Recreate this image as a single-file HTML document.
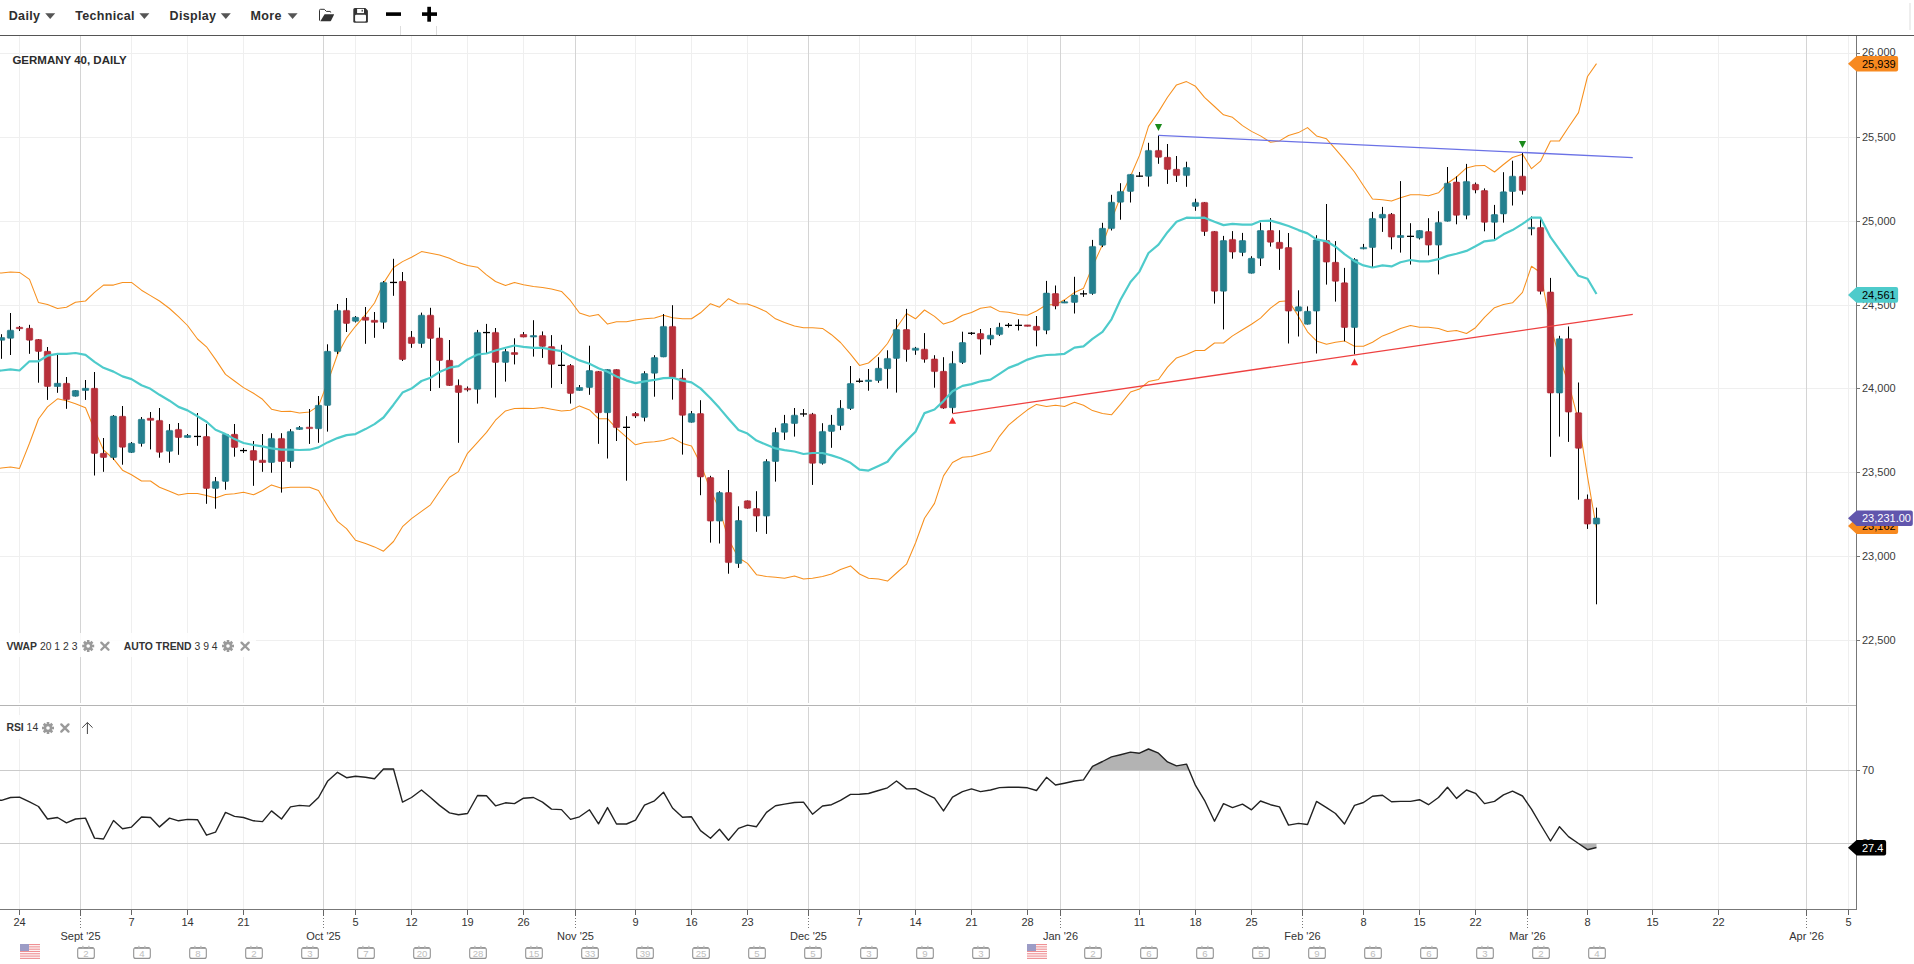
<!DOCTYPE html>
<html><head><meta charset="utf-8"><title>GERMANY 40, DAILY</title>
<style>
html,body{margin:0;padding:0;background:#fff;width:1914px;height:964px;overflow:hidden}
body{position:relative;font-family:"Liberation Sans",Arial,sans-serif}
svg{position:absolute;left:0;top:0}
.ax{font-family:"Liberation Sans",Arial,sans-serif;font-size:11px;fill:#3a3a3a}
.xa{font-family:"Liberation Sans",Arial,sans-serif;font-size:11px;fill:#333}
.tbt{font-family:"Liberation Sans",Arial,sans-serif;font-size:12.5px;font-weight:bold;fill:#2e2e2e;letter-spacing:0.3px}
.title{font-family:"Liberation Sans",Arial,sans-serif;font-size:11.5px;font-weight:bold;fill:#2b2b2b}
.ind{font-family:"Liberation Sans",Arial,sans-serif;font-size:10.4px;fill:#333}
.cal{font-family:"Liberation Sans",Arial,sans-serif;font-size:9.6px;fill:#bdbdbd}
</style></head><body>
<svg width="1914" height="964" viewBox="0 0 1914 964">
<g><rect x="0" y="53" width="1856" height="1" fill="#efefef"/><rect x="0" y="137" width="1856" height="1" fill="#efefef"/><rect x="0" y="221" width="1856" height="1" fill="#efefef"/><rect x="0" y="305" width="1856" height="1" fill="#efefef"/><rect x="0" y="388" width="1856" height="1" fill="#efefef"/><rect x="0" y="472" width="1856" height="1" fill="#efefef"/><rect x="0" y="556" width="1856" height="1" fill="#efefef"/><rect x="0" y="640" width="1856" height="1" fill="#efefef"/><rect x="19" y="36" width="1" height="667" fill="#efefef"/><rect x="19" y="707" width="1" height="202" fill="#efefef"/><rect x="131" y="36" width="1" height="667" fill="#efefef"/><rect x="131" y="707" width="1" height="202" fill="#efefef"/><rect x="187" y="36" width="1" height="667" fill="#efefef"/><rect x="187" y="707" width="1" height="202" fill="#efefef"/><rect x="243" y="36" width="1" height="667" fill="#efefef"/><rect x="243" y="707" width="1" height="202" fill="#efefef"/><rect x="355" y="36" width="1" height="667" fill="#efefef"/><rect x="355" y="707" width="1" height="202" fill="#efefef"/><rect x="411" y="36" width="1" height="667" fill="#efefef"/><rect x="411" y="707" width="1" height="202" fill="#efefef"/><rect x="467" y="36" width="1" height="667" fill="#efefef"/><rect x="467" y="707" width="1" height="202" fill="#efefef"/><rect x="523" y="36" width="1" height="667" fill="#efefef"/><rect x="523" y="707" width="1" height="202" fill="#efefef"/><rect x="635" y="36" width="1" height="667" fill="#efefef"/><rect x="635" y="707" width="1" height="202" fill="#efefef"/><rect x="691" y="36" width="1" height="667" fill="#efefef"/><rect x="691" y="707" width="1" height="202" fill="#efefef"/><rect x="747" y="36" width="1" height="667" fill="#efefef"/><rect x="747" y="707" width="1" height="202" fill="#efefef"/><rect x="859" y="36" width="1" height="667" fill="#efefef"/><rect x="859" y="707" width="1" height="202" fill="#efefef"/><rect x="915" y="36" width="1" height="667" fill="#efefef"/><rect x="915" y="707" width="1" height="202" fill="#efefef"/><rect x="971" y="36" width="1" height="667" fill="#efefef"/><rect x="971" y="707" width="1" height="202" fill="#efefef"/><rect x="1027" y="36" width="1" height="667" fill="#efefef"/><rect x="1027" y="707" width="1" height="202" fill="#efefef"/><rect x="1139" y="36" width="1" height="667" fill="#efefef"/><rect x="1139" y="707" width="1" height="202" fill="#efefef"/><rect x="1195" y="36" width="1" height="667" fill="#efefef"/><rect x="1195" y="707" width="1" height="202" fill="#efefef"/><rect x="1251" y="36" width="1" height="667" fill="#efefef"/><rect x="1251" y="707" width="1" height="202" fill="#efefef"/><rect x="1363" y="36" width="1" height="667" fill="#efefef"/><rect x="1363" y="707" width="1" height="202" fill="#efefef"/><rect x="1419" y="36" width="1" height="667" fill="#efefef"/><rect x="1419" y="707" width="1" height="202" fill="#efefef"/><rect x="1475" y="36" width="1" height="667" fill="#efefef"/><rect x="1475" y="707" width="1" height="202" fill="#efefef"/><rect x="1587" y="36" width="1" height="667" fill="#efefef"/><rect x="1587" y="707" width="1" height="202" fill="#efefef"/><rect x="1652" y="36" width="1" height="667" fill="#efefef"/><rect x="1652" y="707" width="1" height="202" fill="#efefef"/><rect x="1718" y="36" width="1" height="667" fill="#efefef"/><rect x="1718" y="707" width="1" height="202" fill="#efefef"/><rect x="1848" y="36" width="1" height="667" fill="#efefef"/><rect x="1848" y="707" width="1" height="202" fill="#efefef"/><rect x="80" y="36" width="1" height="667" fill="#d4d4d4"/><rect x="80" y="707" width="1" height="202" fill="#d4d4d4"/><rect x="323" y="36" width="1" height="667" fill="#d4d4d4"/><rect x="323" y="707" width="1" height="202" fill="#d4d4d4"/><rect x="575" y="36" width="1" height="667" fill="#d4d4d4"/><rect x="575" y="707" width="1" height="202" fill="#d4d4d4"/><rect x="808" y="36" width="1" height="667" fill="#d4d4d4"/><rect x="808" y="707" width="1" height="202" fill="#d4d4d4"/><rect x="1060" y="36" width="1" height="667" fill="#d4d4d4"/><rect x="1060" y="707" width="1" height="202" fill="#d4d4d4"/><rect x="1302" y="36" width="1" height="667" fill="#d4d4d4"/><rect x="1302" y="707" width="1" height="202" fill="#d4d4d4"/><rect x="1527" y="36" width="1" height="667" fill="#d4d4d4"/><rect x="1527" y="707" width="1" height="202" fill="#d4d4d4"/><rect x="1806" y="36" width="1" height="667" fill="#d4d4d4"/><rect x="1806" y="707" width="1" height="202" fill="#d4d4d4"/><rect x="0" y="770" width="1856" height="1" fill="#cbcbcb"/><rect x="0" y="843" width="1856" height="1" fill="#cbcbcb"/></g>
<polyline points="-7.8,273.7 1.5,272.9 10.5,272.1 19.5,272.4 29.5,279.4 38.5,302.6 47.5,304.5 57.5,308.5 66.5,307.2 75.5,302.3 85.5,301 94.5,292.3 103.5,285.1 113.5,285.1 122.5,282.6 131.5,282.4 141.5,290.2 150.5,295.6 159.5,301 169.5,308.5 178.5,316.6 187.5,325.5 197.5,339 206.5,346.8 215.5,359.4 225.5,374.4 234.5,381 243.5,387.6 253.5,393.3 262.5,399.3 271.5,409.2 281.5,411.5 290.5,411.2 299.5,412.9 309.5,411.9 318.5,405.9 327.5,382.7 337.5,354.5 346.5,337.9 355.5,326.3 365.5,314.7 374.5,303 383.5,283.1 393.5,267.5 402.5,261.6 411.5,257.3 421.5,251.6 430.5,253.3 439.5,254.9 449.5,258.2 458.5,262.6 467.5,265.5 477.5,267.2 486.5,274.8 495.5,281.5 505.5,285.5 514.5,282.5 523.5,284.8 533.5,286.4 542.5,287.4 551.5,289.1 561.5,291.4 570.5,300.7 579.5,313 589.5,316.3 598.5,314.6 607.5,324.1 616.5,321.7 626.5,321.7 635.5,319.9 644.5,318.8 654.5,318.1 663.5,315.3 672.5,317.8 682.5,318.8 691.5,318.8 700.5,312.8 710.5,303.7 719.5,307.2 728.5,298.7 738.5,303.7 747.5,304 756.5,307.2 766.5,311.8 775.5,318.8 784.5,322.4 794.5,325.9 803.5,327.7 812.5,327.7 822.5,328.4 831.5,334.7 840.5,342.5 850.5,354.1 859.5,365.4 868.5,363 878.5,354.1 887.5,343.5 896.5,327.7 906.5,313.5 915.5,318.8 924.5,310 934.5,316.4 943.5,324.1 952.5,321.3 962.5,315.3 971.5,312.5 980.5,308.2 990.5,306.7 999.5,311.4 1008.5,312.3 1018.5,314.4 1027.5,315.2 1036.5,311 1046.5,304.8 1055.5,304.8 1064.5,299.8 1074.5,292.4 1083.5,288.2 1092.5,266.6 1102.5,244.6 1111.5,219.8 1120.5,196.9 1130.5,176.2 1139.5,155.4 1148.5,126.4 1158.5,111.9 1167.5,97.3 1176.5,84.9 1186.5,81.6 1195.5,86.3 1204.5,97.3 1214.5,106.5 1223.5,114.8 1232.5,117.3 1242.5,125.6 1251.5,131.4 1260.5,135.9 1270.5,142.2 1279.5,140.9 1288.5,135.5 1298.5,132.6 1307.5,127.6 1316.5,135.9 1326.5,138.8 1335.5,149.2 1344.5,159.6 1354.5,172 1363.5,185.7 1372.5,199 1382.5,199.8 1391.5,201.1 1400.5,197.7 1410.5,194.8 1419.5,194.8 1428.5,195.7 1438.5,192.8 1447.5,183.2 1456.5,177 1466.5,167.9 1475.5,165.8 1484.5,165.4 1494.5,172 1503.5,164.5 1512.5,157.5 1522.5,154.2 1531.5,168.7 1540.5,161.2 1550.5,140.9 1559.5,140.9 1568.5,127.2 1578.5,112.6 1587.5,76.5 1596.5,63.6" fill="none" stroke="#f7901e" stroke-width="1.05" stroke-linejoin="round"/>
<polyline points="-7.8,469.2 1.5,468.1 10.5,467 19.5,468.4 29.5,443.3 38.5,419 47.5,406.9 57.5,398.8 66.5,400.7 75.5,403.7 85.5,407.7 94.5,429.8 103.5,450 113.5,458.9 122.5,470.2 131.5,474.8 141.5,481 150.5,481 159.5,487.2 169.5,491.3 178.5,495 187.5,493.4 197.5,493.5 206.5,495.5 215.5,498.1 225.5,494.5 234.5,493.8 243.5,492.2 253.5,494.8 262.5,490.5 271.5,484.9 281.5,488.2 290.5,487.2 299.5,487.2 309.5,487.2 318.5,490.5 327.5,505.4 337.5,521.4 346.5,528.6 355.5,540.3 365.5,543.6 374.5,546.9 383.5,551.2 393.5,541.5 402.5,526.7 411.5,518.7 421.5,511.4 430.5,504.8 439.5,491.5 449.5,477.2 458.5,471.6 467.5,453.3 477.5,442.4 486.5,432.4 495.5,420.2 505.5,410.9 514.5,408.5 523.5,408.2 533.5,408.5 542.5,407.5 551.5,409.2 561.5,410.9 570.5,410.2 579.5,405.9 589.5,409.9 598.5,418.7 607.5,418.7 616.5,428.3 626.5,437.1 635.5,444.8 644.5,442.4 654.5,441.7 663.5,440.6 672.5,437.8 682.5,443.4 691.5,445.9 700.5,463.6 710.5,490 719.5,509.4 728.5,539.4 738.5,557.8 747.5,563.4 756.5,574.7 766.5,576.5 775.5,577.2 784.5,578.3 794.5,576 803.5,579 812.5,578.3 822.5,576.5 831.5,574 840.5,569.5 850.5,565.9 859.5,574 868.5,578.3 878.5,579 887.5,581.1 896.5,573 906.5,564.2 915.5,543 924.5,518.3 934.5,503.4 943.5,475.9 952.5,462.5 962.5,457.2 971.5,456.5 980.5,454 990.5,451 999.5,436.3 1008.5,425.1 1018.5,416.8 1027.5,409.8 1036.5,404.4 1046.5,406.5 1055.5,405.2 1064.5,406.5 1074.5,402.3 1083.5,405.2 1092.5,410.6 1102.5,413.5 1111.5,414.8 1120.5,404.4 1130.5,392 1139.5,389 1148.5,381.6 1158.5,379.5 1167.5,367.1 1176.5,357.9 1186.5,354.6 1195.5,350.5 1204.5,350.5 1214.5,343 1223.5,343 1232.5,335.9 1242.5,329.7 1251.5,324.3 1260.5,318.1 1270.5,308.1 1279.5,301.5 1288.5,300.7 1298.5,316.4 1307.5,331.8 1316.5,340.9 1326.5,344.2 1335.5,342.2 1344.5,340.9 1354.5,346.3 1363.5,346.3 1372.5,342.2 1382.5,335.9 1391.5,332.5 1400.5,328.5 1410.5,325.6 1419.5,327.3 1428.5,327.3 1438.5,328.5 1447.5,331.4 1456.5,330.6 1466.5,333.5 1475.5,327.7 1484.5,317.3 1494.5,307.7 1503.5,304.4 1512.5,302.8 1522.5,292.4 1531.5,266.2 1540.5,272.5 1550.5,326 1559.5,357.8 1568.5,383.2 1578.5,420.6 1587.5,476.6 1596.5,528.5" fill="none" stroke="#f7901e" stroke-width="1.05" stroke-linejoin="round"/>
<g><rect x="1" y="334.2" width="1" height="24.6" fill="#000"/><rect x="-1.7" y="337.6" width="6.4" height="2.6" rx="0.3" fill="#24808f" stroke="#1c7483" stroke-width="0.6"/><rect x="10" y="313" width="1" height="42" fill="#000"/><rect x="7.3" y="330.2" width="6.4" height="8.1" rx="0.8" fill="#24808f" stroke="#1c7483" stroke-width="0.6"/><rect x="19" y="326" width="1" height="5" fill="#000"/><rect x="16.3" y="327.3" width="6.4" height="1.4" rx="0.3" fill="#b8303a" stroke="#ab2430" stroke-width="0.6"/><rect x="29" y="324.8" width="1" height="29" fill="#000"/><rect x="26.3" y="328.3" width="6.4" height="11.9" rx="0.8" fill="#b8303a" stroke="#ab2430" stroke-width="0.6"/><rect x="38" y="339" width="1" height="43.7" fill="#000"/><rect x="35.3" y="339.5" width="6.4" height="11.9" rx="0.8" fill="#b8303a" stroke="#ab2430" stroke-width="0.6"/><rect x="47" y="347" width="1" height="52.9" fill="#000"/><rect x="44.3" y="351.3" width="6.4" height="35.2" rx="0.8" fill="#b8303a" stroke="#ab2430" stroke-width="0.6"/><rect x="57" y="355" width="1" height="37.8" fill="#000"/><rect x="54.3" y="383.3" width="6.4" height="3.2" rx="0.3" fill="#24808f" stroke="#1c7483" stroke-width="0.6"/><rect x="66" y="377" width="1" height="31.8" fill="#000"/><rect x="63.3" y="383.3" width="6.4" height="16.3" rx="0.8" fill="#b8303a" stroke="#ab2430" stroke-width="0.6"/><rect x="75" y="390.2" width="1" height="6.3" fill="#000"/><rect x="72.3" y="390.5" width="6.4" height="5.7" rx="0.8" fill="#24808f" stroke="#1c7483" stroke-width="0.6"/><rect x="85" y="380" width="1" height="19.9" fill="#000"/><rect x="82.3" y="388.3" width="6.4" height="2.1" rx="0.3" fill="#24808f" stroke="#1c7483" stroke-width="0.6"/><rect x="94" y="372" width="1" height="103.5" fill="#000"/><rect x="91.3" y="388.3" width="6.4" height="65.1" rx="0.8" fill="#b8303a" stroke="#ab2430" stroke-width="0.6"/><rect x="103" y="438" width="1" height="33.8" fill="#000"/><rect x="100.3" y="453.3" width="6.4" height="4.2" rx="0.8" fill="#b8303a" stroke="#ab2430" stroke-width="0.6"/><rect x="113" y="415" width="1" height="45" fill="#000"/><rect x="110.3" y="416.1" width="6.4" height="41.4" rx="0.8" fill="#24808f" stroke="#1c7483" stroke-width="0.6"/><rect x="122" y="406" width="1" height="58.7" fill="#000"/><rect x="119.3" y="416.3" width="6.4" height="30.9" rx="0.8" fill="#b8303a" stroke="#ab2430" stroke-width="0.6"/><rect x="131" y="442" width="1" height="11" fill="#000"/><rect x="128.3" y="443.3" width="6.4" height="9.1" rx="0.8" fill="#24808f" stroke="#1c7483" stroke-width="0.6"/><rect x="141" y="417" width="1" height="29.6" fill="#000"/><rect x="138.3" y="419.3" width="6.4" height="24.2" rx="0.8" fill="#24808f" stroke="#1c7483" stroke-width="0.6"/><rect x="150" y="412" width="1" height="37.4" fill="#000"/><rect x="147.3" y="418.3" width="6.4" height="2" rx="0.3" fill="#b8303a" stroke="#ab2430" stroke-width="0.6"/><rect x="159" y="408" width="1" height="49.7" fill="#000"/><rect x="156.3" y="420.4" width="6.4" height="31.9" rx="0.8" fill="#b8303a" stroke="#ab2430" stroke-width="0.6"/><rect x="169" y="424" width="1" height="38.8" fill="#000"/><rect x="166.3" y="430.4" width="6.4" height="20.9" rx="0.8" fill="#24808f" stroke="#1c7483" stroke-width="0.6"/><rect x="178" y="423" width="1" height="31.8" fill="#000"/><rect x="175.3" y="429.4" width="6.4" height="8.1" rx="0.8" fill="#b8303a" stroke="#ab2430" stroke-width="0.6"/><rect x="187" y="434" width="1" height="4" fill="#000"/><rect x="184.3" y="435.5" width="6.4" height="1.9" rx="0.3" fill="#24808f" stroke="#1c7483" stroke-width="0.6"/><rect x="197" y="413" width="1" height="32.8" fill="#000"/><rect x="194" y="435.8" width="7" height="1.3" fill="#000"/><rect x="206" y="424" width="1" height="79.8" fill="#000"/><rect x="203.3" y="436.5" width="6.4" height="51.9" rx="0.8" fill="#b8303a" stroke="#ab2430" stroke-width="0.6"/><rect x="215" y="477" width="1" height="31.7" fill="#000"/><rect x="212.3" y="481.4" width="6.4" height="7" rx="0.8" fill="#24808f" stroke="#1c7483" stroke-width="0.6"/><rect x="225" y="433.3" width="1" height="56.4" fill="#000"/><rect x="222.3" y="434.3" width="6.4" height="47.1" rx="0.8" fill="#24808f" stroke="#1c7483" stroke-width="0.6"/><rect x="234" y="424" width="1" height="32.7" fill="#000"/><rect x="231.3" y="434.3" width="6.4" height="13.1" rx="0.8" fill="#b8303a" stroke="#ab2430" stroke-width="0.6"/><rect x="243" y="448" width="1" height="5" fill="#000"/><rect x="240" y="449.9" width="7" height="1.3" fill="#000"/><rect x="253" y="441" width="1" height="44.8" fill="#000"/><rect x="250.3" y="450.5" width="6.4" height="9.8" rx="0.8" fill="#b8303a" stroke="#ab2430" stroke-width="0.6"/><rect x="262" y="434" width="1" height="37.8" fill="#000"/><rect x="259.3" y="460.2" width="6.4" height="2.3" rx="0.3" fill="#b8303a" stroke="#ab2430" stroke-width="0.6"/><rect x="271" y="433.2" width="1" height="39.5" fill="#000"/><rect x="268.3" y="438.4" width="6.4" height="24.1" rx="0.8" fill="#24808f" stroke="#1c7483" stroke-width="0.6"/><rect x="281" y="433.2" width="1" height="59.4" fill="#000"/><rect x="278.3" y="438.4" width="6.4" height="23.1" rx="0.8" fill="#b8303a" stroke="#ab2430" stroke-width="0.6"/><rect x="290" y="429.1" width="1" height="38.8" fill="#000"/><rect x="287.3" y="431.4" width="6.4" height="30.1" rx="0.8" fill="#24808f" stroke="#1c7483" stroke-width="0.6"/><rect x="299" y="426" width="1" height="4" fill="#000"/><rect x="296.3" y="427.5" width="6.4" height="1.9" rx="0.3" fill="#24808f" stroke="#1c7483" stroke-width="0.6"/><rect x="309" y="409" width="1" height="34.9" fill="#000"/><rect x="306.3" y="427.2" width="6.4" height="1.4" rx="0.3" fill="#b8303a" stroke="#ab2430" stroke-width="0.6"/><rect x="318" y="396" width="1" height="46.8" fill="#000"/><rect x="315.3" y="405.3" width="6.4" height="23.4" rx="0.8" fill="#24808f" stroke="#1c7483" stroke-width="0.6"/><rect x="327" y="344.3" width="1" height="87.3" fill="#000"/><rect x="324.3" y="351.3" width="6.4" height="54.1" rx="0.8" fill="#24808f" stroke="#1c7483" stroke-width="0.6"/><rect x="337" y="304" width="1" height="50" fill="#000"/><rect x="334.3" y="310.4" width="6.4" height="41.2" rx="0.8" fill="#24808f" stroke="#1c7483" stroke-width="0.6"/><rect x="346" y="298" width="1" height="34" fill="#000"/><rect x="343.3" y="310.4" width="6.4" height="13" rx="0.8" fill="#b8303a" stroke="#ab2430" stroke-width="0.6"/><rect x="355" y="316" width="1" height="6.5" fill="#000"/><rect x="352.3" y="317.3" width="6.4" height="4" rx="0.8" fill="#24808f" stroke="#1c7483" stroke-width="0.6"/><rect x="365" y="307" width="1" height="36.8" fill="#000"/><rect x="362.3" y="317.3" width="6.4" height="2.9" rx="0.3" fill="#b8303a" stroke="#ab2430" stroke-width="0.6"/><rect x="374" y="312" width="1" height="25.8" fill="#000"/><rect x="371.3" y="320.3" width="6.4" height="2" rx="0.3" fill="#b8303a" stroke="#ab2430" stroke-width="0.6"/><rect x="383" y="281" width="1" height="47.8" fill="#000"/><rect x="380.3" y="282.4" width="6.4" height="39.9" rx="0.8" fill="#24808f" stroke="#1c7483" stroke-width="0.6"/><rect x="393" y="258.8" width="1" height="37" fill="#000"/><rect x="390" y="281.8" width="7" height="1.3" fill="#000"/><rect x="402" y="272" width="1" height="89" fill="#000"/><rect x="399.3" y="281.3" width="6.4" height="78.2" rx="0.8" fill="#b8303a" stroke="#ab2430" stroke-width="0.6"/><rect x="411" y="331" width="1" height="16.8" fill="#000"/><rect x="408.3" y="337.2" width="6.4" height="6.3" rx="0.8" fill="#b8303a" stroke="#ab2430" stroke-width="0.6"/><rect x="421" y="312.6" width="1" height="35.2" fill="#000"/><rect x="418.3" y="315.2" width="6.4" height="28.3" rx="0.8" fill="#24808f" stroke="#1c7483" stroke-width="0.6"/><rect x="430" y="307.8" width="1" height="83.2" fill="#000"/><rect x="427.3" y="315.2" width="6.4" height="23.2" rx="0.8" fill="#b8303a" stroke="#ab2430" stroke-width="0.6"/><rect x="439" y="327.6" width="1" height="60.3" fill="#000"/><rect x="436.3" y="338.1" width="6.4" height="22.3" rx="0.8" fill="#b8303a" stroke="#ab2430" stroke-width="0.6"/><rect x="449" y="340" width="1" height="45.8" fill="#000"/><rect x="446.3" y="360.3" width="6.4" height="25.2" rx="0.8" fill="#b8303a" stroke="#ab2430" stroke-width="0.6"/><rect x="458" y="379.4" width="1" height="63.4" fill="#000"/><rect x="455.3" y="385.4" width="6.4" height="7.1" rx="0.8" fill="#b8303a" stroke="#ab2430" stroke-width="0.6"/><rect x="467" y="386.5" width="1" height="5" fill="#000"/><rect x="464.3" y="388.4" width="6.4" height="1.4" rx="0.3" fill="#b8303a" stroke="#ab2430" stroke-width="0.6"/><rect x="477" y="329.9" width="1" height="73.7" fill="#000"/><rect x="474.3" y="332.4" width="6.4" height="56.9" rx="0.8" fill="#24808f" stroke="#1c7483" stroke-width="0.6"/><rect x="486" y="323.9" width="1" height="29.3" fill="#000"/><rect x="483" y="331.9" width="7" height="1.3" fill="#000"/><rect x="495" y="328" width="1" height="69.5" fill="#000"/><rect x="492.3" y="332.4" width="6.4" height="30" rx="0.8" fill="#b8303a" stroke="#ab2430" stroke-width="0.6"/><rect x="505" y="349" width="1" height="32.6" fill="#000"/><rect x="502.3" y="351.6" width="6.4" height="10.8" rx="0.8" fill="#24808f" stroke="#1c7483" stroke-width="0.6"/><rect x="514" y="338.3" width="1" height="26.1" fill="#000"/><rect x="511.3" y="352.6" width="6.4" height="1.8" rx="0.3" fill="#b8303a" stroke="#ab2430" stroke-width="0.6"/><rect x="523" y="332" width="1" height="5.3" fill="#000"/><rect x="520.3" y="334.5" width="6.4" height="2.5" rx="0.3" fill="#b8303a" stroke="#ab2430" stroke-width="0.6"/><rect x="533" y="320.2" width="1" height="36.4" fill="#000"/><rect x="530.3" y="335.6" width="6.4" height="1.4" rx="0.3" fill="#24808f" stroke="#1c7483" stroke-width="0.6"/><rect x="542" y="331.4" width="1" height="26.5" fill="#000"/><rect x="539.3" y="335.6" width="6.4" height="10.8" rx="0.8" fill="#b8303a" stroke="#ab2430" stroke-width="0.6"/><rect x="551" y="335.1" width="1" height="52.7" fill="#000"/><rect x="548.3" y="346.6" width="6.4" height="17.7" rx="0.8" fill="#b8303a" stroke="#ab2430" stroke-width="0.6"/><rect x="561" y="344.8" width="1" height="39.2" fill="#000"/><rect x="558" y="364.7" width="7" height="1.3" fill="#000"/><rect x="570" y="364" width="1" height="39.6" fill="#000"/><rect x="567.3" y="365.5" width="6.4" height="27.9" rx="0.8" fill="#b8303a" stroke="#ab2430" stroke-width="0.6"/><rect x="579" y="385" width="1" height="5.7" fill="#000"/><rect x="576.3" y="387.5" width="6.4" height="2.9" rx="0.3" fill="#24808f" stroke="#1c7483" stroke-width="0.6"/><rect x="589" y="345.7" width="1" height="49.1" fill="#000"/><rect x="586.3" y="370.5" width="6.4" height="17" rx="0.8" fill="#24808f" stroke="#1c7483" stroke-width="0.6"/><rect x="598" y="371" width="1" height="72.8" fill="#000"/><rect x="595.3" y="371.4" width="6.4" height="41.3" rx="0.8" fill="#b8303a" stroke="#ab2430" stroke-width="0.6"/><rect x="607" y="369.3" width="1" height="89.2" fill="#000"/><rect x="604.3" y="369.6" width="6.4" height="43.1" rx="0.8" fill="#24808f" stroke="#1c7483" stroke-width="0.6"/><rect x="616" y="369.3" width="1" height="71.7" fill="#000"/><rect x="613.3" y="369.6" width="6.4" height="58" rx="0.8" fill="#b8303a" stroke="#ab2430" stroke-width="0.6"/><rect x="626" y="416.2" width="1" height="64.5" fill="#000"/><rect x="623" y="426.7" width="7" height="1.3" fill="#000"/><rect x="635" y="412" width="1" height="6" fill="#000"/><rect x="632.3" y="413.6" width="6.4" height="2.3" rx="0.3" fill="#b8303a" stroke="#ab2430" stroke-width="0.6"/><rect x="644" y="371.2" width="1" height="50.2" fill="#000"/><rect x="641.3" y="373.5" width="6.4" height="43.9" rx="0.8" fill="#24808f" stroke="#1c7483" stroke-width="0.6"/><rect x="654" y="355.2" width="1" height="41.5" fill="#000"/><rect x="651.3" y="357.5" width="6.4" height="15.7" rx="0.8" fill="#24808f" stroke="#1c7483" stroke-width="0.6"/><rect x="663" y="314" width="1" height="43.2" fill="#000"/><rect x="660.3" y="326.4" width="6.4" height="30.5" rx="0.8" fill="#24808f" stroke="#1c7483" stroke-width="0.6"/><rect x="672" y="305.2" width="1" height="94.4" fill="#000"/><rect x="669.3" y="326.4" width="6.4" height="51.2" rx="0.8" fill="#b8303a" stroke="#ab2430" stroke-width="0.6"/><rect x="682" y="369.1" width="1" height="85.5" fill="#000"/><rect x="679.3" y="378.2" width="6.4" height="37.1" rx="0.8" fill="#b8303a" stroke="#ab2430" stroke-width="0.6"/><rect x="691" y="411" width="1" height="11.6" fill="#000"/><rect x="688.3" y="413.6" width="6.4" height="8.7" rx="0.8" fill="#24808f" stroke="#1c7483" stroke-width="0.6"/><rect x="700" y="400.2" width="1" height="95" fill="#000"/><rect x="697.3" y="413.6" width="6.4" height="63.3" rx="0.8" fill="#b8303a" stroke="#ab2430" stroke-width="0.6"/><rect x="710" y="475.8" width="1" height="66.8" fill="#000"/><rect x="707.3" y="477.5" width="6.4" height="43.6" rx="0.8" fill="#b8303a" stroke="#ab2430" stroke-width="0.6"/><rect x="719" y="491.2" width="1" height="52.3" fill="#000"/><rect x="716.3" y="492.6" width="6.4" height="28.5" rx="0.8" fill="#24808f" stroke="#1c7483" stroke-width="0.6"/><rect x="728" y="470" width="1" height="103.7" fill="#000"/><rect x="725.3" y="492.6" width="6.4" height="70" rx="0.8" fill="#b8303a" stroke="#ab2430" stroke-width="0.6"/><rect x="738" y="506.3" width="1" height="61.6" fill="#000"/><rect x="735.3" y="520.5" width="6.4" height="43" rx="0.8" fill="#24808f" stroke="#1c7483" stroke-width="0.6"/><rect x="747" y="500.5" width="1" height="8.1" fill="#000"/><rect x="744.3" y="500.8" width="6.4" height="7.5" rx="0.8" fill="#b8303a" stroke="#ab2430" stroke-width="0.6"/><rect x="756" y="491.2" width="1" height="40.6" fill="#000"/><rect x="753.3" y="508.6" width="6.4" height="7.5" rx="0.8" fill="#b8303a" stroke="#ab2430" stroke-width="0.6"/><rect x="766" y="459.2" width="1" height="74.7" fill="#000"/><rect x="763.3" y="461.5" width="6.4" height="54.6" rx="0.8" fill="#24808f" stroke="#1c7483" stroke-width="0.6"/><rect x="775" y="427.8" width="1" height="53.8" fill="#000"/><rect x="772.3" y="432.5" width="6.4" height="29" rx="0.8" fill="#24808f" stroke="#1c7483" stroke-width="0.6"/><rect x="784" y="414.9" width="1" height="25" fill="#000"/><rect x="781.3" y="423.5" width="6.4" height="8.8" rx="0.8" fill="#24808f" stroke="#1c7483" stroke-width="0.6"/><rect x="794" y="408" width="1" height="28.6" fill="#000"/><rect x="791.3" y="415.2" width="6.4" height="8.3" rx="0.8" fill="#24808f" stroke="#1c7483" stroke-width="0.6"/><rect x="803" y="409" width="1" height="7.7" fill="#000"/><rect x="800" y="413.3" width="7" height="1.3" fill="#000"/><rect x="812" y="412.9" width="1" height="72" fill="#000"/><rect x="809.3" y="414.2" width="6.4" height="49.1" rx="0.8" fill="#b8303a" stroke="#ab2430" stroke-width="0.6"/><rect x="822" y="423.2" width="1" height="41.4" fill="#000"/><rect x="819.3" y="431.4" width="6.4" height="31.9" rx="0.8" fill="#24808f" stroke="#1c7483" stroke-width="0.6"/><rect x="831" y="414.9" width="1" height="32.9" fill="#000"/><rect x="828.3" y="425.1" width="6.4" height="6.3" rx="0.8" fill="#24808f" stroke="#1c7483" stroke-width="0.6"/><rect x="840" y="400.1" width="1" height="30" fill="#000"/><rect x="837.3" y="408.3" width="6.4" height="17.1" rx="0.8" fill="#24808f" stroke="#1c7483" stroke-width="0.6"/><rect x="850" y="366" width="1" height="44" fill="#000"/><rect x="847.3" y="383.5" width="6.4" height="25" rx="0.8" fill="#24808f" stroke="#1c7483" stroke-width="0.6"/><rect x="859" y="378.4" width="1" height="4.4" fill="#000"/><rect x="856" y="380.6" width="7" height="1.3" fill="#000"/><rect x="868" y="369" width="1" height="21.7" fill="#000"/><rect x="865.3" y="380.1" width="6.4" height="1.4" rx="0.3" fill="#24808f" stroke="#1c7483" stroke-width="0.6"/><rect x="878" y="357.2" width="1" height="25.6" fill="#000"/><rect x="875.3" y="368.3" width="6.4" height="12.2" rx="0.8" fill="#24808f" stroke="#1c7483" stroke-width="0.6"/><rect x="887" y="350.3" width="1" height="38.4" fill="#000"/><rect x="884.3" y="358.4" width="6.4" height="10.3" rx="0.8" fill="#24808f" stroke="#1c7483" stroke-width="0.6"/><rect x="896" y="319.1" width="1" height="73.5" fill="#000"/><rect x="893.3" y="329.5" width="6.4" height="28.9" rx="0.8" fill="#24808f" stroke="#1c7483" stroke-width="0.6"/><rect x="906" y="308.9" width="1" height="52.8" fill="#000"/><rect x="903.3" y="329.5" width="6.4" height="19.9" rx="0.8" fill="#b8303a" stroke="#ab2430" stroke-width="0.6"/><rect x="915" y="346.9" width="1" height="7.9" fill="#000"/><rect x="912.3" y="348.2" width="6.4" height="2" rx="0.3" fill="#24808f" stroke="#1c7483" stroke-width="0.6"/><rect x="924" y="333.1" width="1" height="29.6" fill="#000"/><rect x="921.3" y="349.2" width="6.4" height="10" rx="0.8" fill="#b8303a" stroke="#ab2430" stroke-width="0.6"/><rect x="934" y="355.2" width="1" height="32.5" fill="#000"/><rect x="931.3" y="359" width="6.4" height="12.6" rx="0.8" fill="#b8303a" stroke="#ab2430" stroke-width="0.6"/><rect x="943" y="357.2" width="1" height="51.6" fill="#000"/><rect x="940.3" y="371.3" width="6.4" height="36.8" rx="0.8" fill="#b8303a" stroke="#ab2430" stroke-width="0.6"/><rect x="952" y="351.2" width="1" height="62.1" fill="#000"/><rect x="949.3" y="363.4" width="6.4" height="44.3" rx="0.8" fill="#24808f" stroke="#1c7483" stroke-width="0.6"/><rect x="962" y="331.7" width="1" height="32.3" fill="#000"/><rect x="959.3" y="342.5" width="6.4" height="19.9" rx="0.8" fill="#24808f" stroke="#1c7483" stroke-width="0.6"/><rect x="971" y="332" width="1" height="3" fill="#000"/><rect x="968" y="332.6" width="7" height="1.3" fill="#000"/><rect x="980" y="329" width="1" height="25.6" fill="#000"/><rect x="977.3" y="333.5" width="6.4" height="5.6" rx="0.8" fill="#b8303a" stroke="#ab2430" stroke-width="0.6"/><rect x="990" y="328" width="1" height="17.2" fill="#000"/><rect x="987.3" y="335.2" width="6.4" height="3.9" rx="0.8" fill="#24808f" stroke="#1c7483" stroke-width="0.6"/><rect x="999" y="322.8" width="1" height="13.1" fill="#000"/><rect x="996.3" y="327.3" width="6.4" height="7.3" rx="0.8" fill="#24808f" stroke="#1c7483" stroke-width="0.6"/><rect x="1008" y="323" width="1" height="4.5" fill="#000"/><rect x="1005" y="324.7" width="7" height="1.3" fill="#000"/><rect x="1018" y="319.3" width="1" height="11.2" fill="#000"/><rect x="1015" y="324.7" width="7" height="1.3" fill="#000"/><rect x="1027" y="324.9" width="1" height="1.5" fill="#000"/><rect x="1024.3" y="324.9" width="6.4" height="1.4" rx="0.3" fill="#b8303a" stroke="#ab2430" stroke-width="0.6"/><rect x="1036" y="316" width="1" height="30.3" fill="#000"/><rect x="1033.3" y="326.3" width="6.4" height="3.9" rx="0.8" fill="#b8303a" stroke="#ab2430" stroke-width="0.6"/><rect x="1046" y="280.9" width="1" height="53.3" fill="#000"/><rect x="1043.3" y="293.1" width="6.4" height="37.1" rx="0.8" fill="#24808f" stroke="#1c7483" stroke-width="0.6"/><rect x="1055" y="285.5" width="1" height="23.8" fill="#000"/><rect x="1052.3" y="293.5" width="6.4" height="12.4" rx="0.8" fill="#b8303a" stroke="#ab2430" stroke-width="0.6"/><rect x="1064" y="300" width="1" height="3.1" fill="#000"/><rect x="1061.3" y="301.7" width="6.4" height="1.4" rx="0.3" fill="#24808f" stroke="#1c7483" stroke-width="0.6"/><rect x="1074" y="276.8" width="1" height="36.7" fill="#000"/><rect x="1071.3" y="295.1" width="6.4" height="7.3" rx="0.8" fill="#24808f" stroke="#1c7483" stroke-width="0.6"/><rect x="1083" y="290.3" width="1" height="6.6" fill="#000"/><rect x="1080" y="293.2" width="7" height="1.3" fill="#000"/><rect x="1092" y="239.9" width="1" height="54.9" fill="#000"/><rect x="1089.3" y="246.4" width="6.4" height="47.1" rx="0.8" fill="#24808f" stroke="#1c7483" stroke-width="0.6"/><rect x="1102" y="222.8" width="1" height="24.3" fill="#000"/><rect x="1099.3" y="228.3" width="6.4" height="16.9" rx="0.8" fill="#24808f" stroke="#1c7483" stroke-width="0.6"/><rect x="1111" y="194.8" width="1" height="35.7" fill="#000"/><rect x="1108.3" y="202.2" width="6.4" height="26.4" rx="0.8" fill="#24808f" stroke="#1c7483" stroke-width="0.6"/><rect x="1120" y="183.2" width="1" height="36.5" fill="#000"/><rect x="1117.3" y="191.4" width="6.4" height="10.8" rx="0.8" fill="#24808f" stroke="#1c7483" stroke-width="0.6"/><rect x="1130" y="174.1" width="1" height="28.4" fill="#000"/><rect x="1127.3" y="174.4" width="6.4" height="17" rx="0.8" fill="#24808f" stroke="#1c7483" stroke-width="0.6"/><rect x="1139" y="172" width="1" height="5" fill="#000"/><rect x="1136" y="175.5" width="7" height="1.3" fill="#000"/><rect x="1148" y="142.8" width="1" height="43.8" fill="#000"/><rect x="1145.3" y="150.4" width="6.4" height="25.9" rx="0.8" fill="#24808f" stroke="#1c7483" stroke-width="0.6"/><rect x="1158" y="135.5" width="1" height="28.3" fill="#000"/><rect x="1155.3" y="150.4" width="6.4" height="6.9" rx="0.8" fill="#b8303a" stroke="#ab2430" stroke-width="0.6"/><rect x="1167" y="144" width="1" height="39.9" fill="#000"/><rect x="1164.3" y="157.3" width="6.4" height="12.1" rx="0.8" fill="#b8303a" stroke="#ab2430" stroke-width="0.6"/><rect x="1176" y="156" width="1" height="26" fill="#000"/><rect x="1173.3" y="169.3" width="6.4" height="6.3" rx="0.8" fill="#b8303a" stroke="#ab2430" stroke-width="0.6"/><rect x="1186" y="161.7" width="1" height="25.1" fill="#000"/><rect x="1183.3" y="167.5" width="6.4" height="8.1" rx="0.8" fill="#24808f" stroke="#1c7483" stroke-width="0.6"/><rect x="1195" y="198.7" width="1" height="12.1" fill="#000"/><rect x="1192.3" y="202.4" width="6.4" height="4" rx="0.8" fill="#24808f" stroke="#1c7483" stroke-width="0.6"/><rect x="1204" y="202.1" width="1" height="33.8" fill="#000"/><rect x="1201.3" y="202.4" width="6.4" height="29.1" rx="0.8" fill="#b8303a" stroke="#ab2430" stroke-width="0.6"/><rect x="1214" y="231.1" width="1" height="72.5" fill="#000"/><rect x="1211.3" y="231.4" width="6.4" height="59.8" rx="0.8" fill="#b8303a" stroke="#ab2430" stroke-width="0.6"/><rect x="1223" y="235.9" width="1" height="93.5" fill="#000"/><rect x="1220.3" y="240.5" width="6.4" height="50.7" rx="0.8" fill="#24808f" stroke="#1c7483" stroke-width="0.6"/><rect x="1232" y="231.1" width="1" height="27.6" fill="#000"/><rect x="1229.3" y="239.4" width="6.4" height="12.6" rx="0.8" fill="#b8303a" stroke="#ab2430" stroke-width="0.6"/><rect x="1242" y="232.9" width="1" height="23.3" fill="#000"/><rect x="1239.3" y="240.5" width="6.4" height="12" rx="0.8" fill="#24808f" stroke="#1c7483" stroke-width="0.6"/><rect x="1251" y="256.2" width="1" height="17.3" fill="#000"/><rect x="1248.3" y="258.3" width="6.4" height="14.9" rx="0.8" fill="#24808f" stroke="#1c7483" stroke-width="0.6"/><rect x="1260" y="222.6" width="1" height="43.4" fill="#000"/><rect x="1257.3" y="230.5" width="6.4" height="27.7" rx="0.8" fill="#24808f" stroke="#1c7483" stroke-width="0.6"/><rect x="1270" y="218.1" width="1" height="28.5" fill="#000"/><rect x="1267.3" y="230.5" width="6.4" height="11.7" rx="0.8" fill="#b8303a" stroke="#ab2430" stroke-width="0.6"/><rect x="1279" y="230.2" width="1" height="39.7" fill="#000"/><rect x="1276.3" y="242.3" width="6.4" height="6.3" rx="0.8" fill="#b8303a" stroke="#ab2430" stroke-width="0.6"/><rect x="1288" y="233" width="1" height="110.5" fill="#000"/><rect x="1285.3" y="247.5" width="6.4" height="63.6" rx="0.8" fill="#b8303a" stroke="#ab2430" stroke-width="0.6"/><rect x="1298" y="290.3" width="1" height="46.2" fill="#000"/><rect x="1295.3" y="306.7" width="6.4" height="4.4" rx="0.8" fill="#24808f" stroke="#1c7483" stroke-width="0.6"/><rect x="1307" y="306.4" width="1" height="18.1" fill="#000"/><rect x="1304.3" y="311.3" width="6.4" height="12.9" rx="0.8" fill="#24808f" stroke="#1c7483" stroke-width="0.6"/><rect x="1316" y="235.2" width="1" height="118.3" fill="#000"/><rect x="1313.3" y="239.8" width="6.4" height="71.3" rx="0.8" fill="#24808f" stroke="#1c7483" stroke-width="0.6"/><rect x="1326" y="204" width="1" height="80.6" fill="#000"/><rect x="1323.3" y="240.5" width="6.4" height="21.6" rx="0.8" fill="#b8303a" stroke="#ab2430" stroke-width="0.6"/><rect x="1335" y="241.1" width="1" height="60.5" fill="#000"/><rect x="1332.3" y="262.3" width="6.4" height="19" rx="0.8" fill="#b8303a" stroke="#ab2430" stroke-width="0.6"/><rect x="1344" y="267.9" width="1" height="73.4" fill="#000"/><rect x="1341.3" y="282.8" width="6.4" height="44.7" rx="0.8" fill="#b8303a" stroke="#ab2430" stroke-width="0.6"/><rect x="1354" y="258.1" width="1" height="96.3" fill="#000"/><rect x="1351.3" y="259.5" width="6.4" height="68" rx="0.8" fill="#24808f" stroke="#1c7483" stroke-width="0.6"/><rect x="1363" y="243.9" width="1" height="5.4" fill="#000"/><rect x="1360.3" y="247.4" width="6.4" height="1.4" rx="0.3" fill="#24808f" stroke="#1c7483" stroke-width="0.6"/><rect x="1372" y="211.9" width="1" height="55.3" fill="#000"/><rect x="1369.3" y="218.5" width="6.4" height="29" rx="0.8" fill="#24808f" stroke="#1c7483" stroke-width="0.6"/><rect x="1382" y="206.9" width="1" height="25" fill="#000"/><rect x="1379.3" y="214.3" width="6.4" height="3.8" rx="0.8" fill="#24808f" stroke="#1c7483" stroke-width="0.6"/><rect x="1391" y="213" width="1" height="36.3" fill="#000"/><rect x="1388.3" y="214.3" width="6.4" height="22.8" rx="0.8" fill="#b8303a" stroke="#ab2430" stroke-width="0.6"/><rect x="1400" y="181.1" width="1" height="71.5" fill="#000"/><rect x="1397.3" y="235.5" width="6.4" height="2" rx="0.3" fill="#24808f" stroke="#1c7483" stroke-width="0.6"/><rect x="1410" y="223.2" width="1" height="41.4" fill="#000"/><rect x="1407" y="235.7" width="7" height="1.3" fill="#000"/><rect x="1419" y="230.2" width="1" height="9.3" fill="#000"/><rect x="1416.3" y="230.5" width="6.4" height="7.6" rx="0.8" fill="#24808f" stroke="#1c7483" stroke-width="0.6"/><rect x="1428" y="218.2" width="1" height="37.2" fill="#000"/><rect x="1425.3" y="231.6" width="6.4" height="13.5" rx="0.8" fill="#b8303a" stroke="#ab2430" stroke-width="0.6"/><rect x="1438" y="211.2" width="1" height="63.2" fill="#000"/><rect x="1435.3" y="222.4" width="6.4" height="22.7" rx="0.8" fill="#24808f" stroke="#1c7483" stroke-width="0.6"/><rect x="1447" y="167" width="1" height="54.5" fill="#000"/><rect x="1444.3" y="183.2" width="6.4" height="38" rx="0.8" fill="#24808f" stroke="#1c7483" stroke-width="0.6"/><rect x="1456" y="176.3" width="1" height="48" fill="#000"/><rect x="1453.3" y="182.1" width="6.4" height="33.2" rx="0.8" fill="#b8303a" stroke="#ab2430" stroke-width="0.6"/><rect x="1466" y="163.9" width="1" height="55.4" fill="#000"/><rect x="1463.3" y="181.4" width="6.4" height="33.9" rx="0.8" fill="#24808f" stroke="#1c7483" stroke-width="0.6"/><rect x="1475" y="182.5" width="1" height="10.8" fill="#000"/><rect x="1472.3" y="184.3" width="6.4" height="5.6" rx="0.8" fill="#b8303a" stroke="#ab2430" stroke-width="0.6"/><rect x="1484" y="188.4" width="1" height="42.9" fill="#000"/><rect x="1481.3" y="190.5" width="6.4" height="31.8" rx="0.8" fill="#b8303a" stroke="#ab2430" stroke-width="0.6"/><rect x="1494" y="204.9" width="1" height="34.1" fill="#000"/><rect x="1491.3" y="214.5" width="6.4" height="7.8" rx="0.8" fill="#24808f" stroke="#1c7483" stroke-width="0.6"/><rect x="1503" y="172.2" width="1" height="50.4" fill="#000"/><rect x="1500.3" y="191.8" width="6.4" height="22.1" rx="0.8" fill="#24808f" stroke="#1c7483" stroke-width="0.6"/><rect x="1512" y="160.7" width="1" height="44.8" fill="#000"/><rect x="1509.3" y="176.2" width="6.4" height="15.3" rx="0.8" fill="#24808f" stroke="#1c7483" stroke-width="0.6"/><rect x="1522" y="152" width="1" height="42.6" fill="#000"/><rect x="1519.3" y="176.2" width="6.4" height="14.4" rx="0.8" fill="#b8303a" stroke="#ab2430" stroke-width="0.6"/><rect x="1531" y="216.4" width="1" height="18.9" fill="#000"/><rect x="1528.3" y="227.4" width="6.4" height="1.4" rx="0.3" fill="#24808f" stroke="#1c7483" stroke-width="0.6"/><rect x="1540" y="218.8" width="1" height="75.6" fill="#000"/><rect x="1537.3" y="227.5" width="6.4" height="63.8" rx="0.8" fill="#b8303a" stroke="#ab2430" stroke-width="0.6"/><rect x="1550" y="277.9" width="1" height="178.9" fill="#000"/><rect x="1547.3" y="292" width="6.4" height="101" rx="0.8" fill="#b8303a" stroke="#ab2430" stroke-width="0.6"/><rect x="1559" y="335.8" width="1" height="100.8" fill="#000"/><rect x="1556.3" y="338.7" width="6.4" height="54.3" rx="0.8" fill="#24808f" stroke="#1c7483" stroke-width="0.6"/><rect x="1568" y="326.5" width="1" height="115.4" fill="#000"/><rect x="1565.3" y="338.7" width="6.4" height="73.4" rx="0.8" fill="#b8303a" stroke="#ab2430" stroke-width="0.6"/><rect x="1578" y="382.5" width="1" height="117.2" fill="#000"/><rect x="1575.3" y="412.7" width="6.4" height="35.6" rx="0.8" fill="#b8303a" stroke="#ab2430" stroke-width="0.6"/><rect x="1587" y="494.5" width="1" height="34.4" fill="#000"/><rect x="1584.3" y="499.3" width="6.4" height="24.8" rx="0.8" fill="#b8303a" stroke="#ab2430" stroke-width="0.6"/><rect x="1596" y="507.6" width="1" height="96.7" fill="#000"/><rect x="1593.3" y="518" width="6.4" height="6.1" rx="0.8" fill="#24808f" stroke="#1c7483" stroke-width="0.6"/></g>
<polyline points="-7.8,371.6 1.5,370.5 10.5,369.4 19.5,370.5 29.5,361.3 38.5,361.3 47.5,355.7 57.5,353.8 66.5,353.8 75.5,353 85.5,354.9 94.5,361.9 103.5,367.8 113.5,371.6 122.5,376.4 131.5,379.1 141.5,385.3 150.5,388.8 159.5,394.8 169.5,400.7 178.5,406.9 187.5,410.4 197.5,416.3 206.5,421.8 215.5,429.8 225.5,434.1 234.5,439.1 243.5,443 253.5,445 262.5,446.4 271.5,448.4 281.5,449.7 290.5,449.7 299.5,450 309.5,449.7 318.5,447.4 327.5,442.4 337.5,438.1 346.5,435.1 355.5,434.1 365.5,429.1 374.5,424.1 383.5,417.5 393.5,404.7 402.5,392.6 411.5,388.6 421.5,381 430.5,377.7 439.5,372 449.5,367.7 458.5,366.1 467.5,359.4 477.5,354.5 486.5,353.5 495.5,350.5 505.5,347.8 514.5,345.5 523.5,346.8 533.5,347.8 542.5,347.8 551.5,349.5 561.5,351.1 570.5,356.1 579.5,360.4 589.5,363.7 598.5,368.3 607.5,371.8 616.5,376.4 626.5,380.6 635.5,383.1 644.5,381.3 654.5,379.9 663.5,378.1 672.5,377.8 682.5,380.6 691.5,382.4 700.5,388.4 710.5,398.3 719.5,408.1 728.5,418.7 738.5,430 747.5,433.6 756.5,440.6 766.5,444.8 775.5,448.4 784.5,450.1 794.5,451.5 803.5,454 812.5,453 822.5,453 831.5,455.4 840.5,458.3 850.5,462.8 859.5,469.6 868.5,470.6 878.5,466 887.5,461.8 896.5,450.5 906.5,440.6 915.5,431.8 924.5,413.1 934.5,409.5 943.5,401.1 952.5,391.2 962.5,385.9 971.5,384.1 980.5,381.3 990.5,379.7 999.5,373.8 1008.5,367.9 1018.5,364.1 1027.5,359.6 1036.5,356.7 1046.5,355 1055.5,354.6 1064.5,353.8 1074.5,347.6 1083.5,346.3 1092.5,338.8 1102.5,331.8 1111.5,319.3 1120.5,299.8 1130.5,282 1139.5,271.6 1148.5,253 1158.5,244.6 1167.5,232.2 1176.5,221.8 1186.5,217.7 1195.5,217.9 1204.5,217.7 1214.5,221.8 1223.5,225.1 1232.5,223.9 1242.5,224.7 1251.5,224.7 1260.5,221 1270.5,220.6 1279.5,223.1 1288.5,226 1298.5,230.1 1307.5,233.4 1316.5,239.3 1326.5,241.3 1335.5,246.7 1344.5,254.2 1354.5,261.2 1363.5,265.4 1372.5,267.5 1382.5,265.4 1391.5,266.4 1400.5,262.3 1410.5,260 1419.5,261.3 1428.5,261.3 1438.5,259.2 1447.5,255.9 1456.5,253.8 1466.5,250.9 1475.5,246.3 1484.5,241.3 1494.5,240.1 1503.5,234.3 1512.5,230.1 1522.5,223.9 1531.5,217.7 1540.5,217.7 1550.5,237.2 1559.5,249.6 1568.5,262.1 1578.5,275.8 1587.5,278.7 1596.5,294" fill="none" stroke="#4ecbcb" stroke-width="2.2" stroke-linejoin="round"/>
<line x1="1158.5" y1="135.4" x2="1632.8" y2="157.6" stroke="#6b72e6" stroke-width="1.3"/>
<line x1="952.5" y1="413.7" x2="1632.8" y2="314.3" stroke="#ee4040" stroke-width="1.3"/>
<polygon points="1154.9,124 1162.1,124 1158.5,131" fill="#1a8a1a"/>
<polygon points="1518.9,141 1526.1,141 1522.5,148" fill="#1a8a1a"/>
<polygon points="948.9,423.8 956.1,423.8 952.5,417" fill="#ef2b2b"/>
<polygon points="1350.9,365.3 1358.1,365.3 1354.5,358.5" fill="#ef2b2b"/>
<polygon points="382.2,770.4 383.5,769 393.5,769 393.9,770.4 393.9,770.4 382.2,770.4" fill="#b3b3b3"/><polygon points="1089.8,770.4 1092.5,766.3 1102.5,761.5 1111.5,756.9 1120.5,754.7 1130.5,752.1 1139.5,753.2 1148.5,749 1158.5,753.2 1167.5,761.9 1176.5,765.9 1186.5,764.1 1189.2,770.4 1189.2,770.4 1089.8,770.4" fill="#b3b3b3"/>
<polygon points="1578.4,843.4 1578.5,843.5 1587.5,849.7 1596.5,847.5 1596.5,843.4 1596.5,843.4 1578.4,843.4" fill="#b3b3b3"/>
<polyline points="-7.8,800.3 1.5,800.3 10.5,797.5 19.5,797.1 29.5,801.9 38.5,806.5 47.5,819 57.5,817.5 66.5,822.9 75.5,819 85.5,818.1 94.5,838.1 103.5,839 113.5,820.5 122.5,828.7 131.5,827.1 141.5,817 150.5,817.5 159.5,826.9 169.5,818.1 178.5,820.8 187.5,819.4 197.5,819.7 206.5,835.2 215.5,832.2 225.5,812.4 234.5,816.4 243.5,817.5 253.5,820.8 262.5,821.6 271.5,810.9 281.5,819 290.5,806.9 299.5,805.4 309.5,806.1 318.5,797.5 327.5,781.3 337.5,772.3 346.5,777.7 355.5,776.2 365.5,777.3 374.5,778.8 383.5,769 393.5,769 402.5,802.1 411.5,797.5 421.5,790 430.5,797.5 439.5,805.4 449.5,812.9 458.5,814.8 467.5,813.5 477.5,795.5 486.5,795.7 495.5,805.8 505.5,802.8 514.5,803.6 523.5,798.2 533.5,797.5 542.5,802.1 551.5,809.1 561.5,809.6 570.5,819.4 579.5,816.8 589.5,809.8 598.5,823.8 607.5,807.6 616.5,824 626.5,824 635.5,820.1 644.5,805.2 654.5,800.8 663.5,792.2 672.5,808 682.5,817.2 691.5,816.8 700.5,830.6 710.5,838.3 719.5,829.3 728.5,840.3 738.5,828.4 747.5,825.1 756.5,826.7 766.5,812.4 775.5,805.8 784.5,804.1 794.5,802.5 803.5,802.1 812.5,814.2 822.5,806 831.5,804.7 840.5,800.3 850.5,794.4 859.5,794.2 868.5,793.5 878.5,790.5 887.5,787.8 896.5,781 906.5,788.9 915.5,788.7 924.5,793.3 934.5,798.2 943.5,810.9 952.5,797.1 962.5,791.6 971.5,788.9 980.5,791.6 990.5,790 999.5,787.6 1008.5,787.2 1018.5,787.2 1027.5,787.8 1036.5,790.5 1046.5,777.3 1055.5,785 1064.5,783.2 1074.5,781 1083.5,779.9 1092.5,766.3 1102.5,761.5 1111.5,756.9 1120.5,754.7 1130.5,752.1 1139.5,753.2 1148.5,749 1158.5,753.2 1167.5,761.9 1176.5,765.9 1186.5,764.1 1195.5,785.4 1204.5,800.3 1214.5,821.2 1223.5,803.6 1232.5,807.6 1242.5,804.1 1251.5,809.8 1260.5,801 1270.5,804.7 1279.5,806.9 1288.5,825.1 1298.5,823.4 1307.5,824.5 1316.5,801.4 1326.5,807.6 1335.5,813.5 1344.5,824 1354.5,805.4 1363.5,802.5 1372.5,796.2 1382.5,795.3 1391.5,801.7 1400.5,801.4 1410.5,801.4 1419.5,799.7 1428.5,804.7 1438.5,797.5 1447.5,787.2 1456.5,798.4 1466.5,790 1475.5,793.3 1484.5,803.6 1494.5,801.4 1503.5,794.9 1512.5,791.1 1522.5,796 1531.5,809.1 1540.5,824.5 1550.5,841 1559.5,826.7 1568.5,836.6 1578.5,843.5 1587.5,849.7 1596.5,847.5" fill="none" stroke="#222" stroke-width="1.4" stroke-linejoin="round"/>
<rect x="0" y="705" width="1856" height="1" fill="#b4b4b4"/>
<rect x="0" y="909" width="1857" height="1" fill="#777"/>
<rect x="1856" y="35" width="1" height="875" fill="#777"/>
<rect x="0" y="35" width="1914" height="1" fill="#555"/>
<rect x="1857" y="53" width="3" height="1" fill="#777"/><text x="1862" y="55.6" class="ax">26,000</text><rect x="1857" y="137" width="3" height="1" fill="#777"/><text x="1862" y="141.2" class="ax">25,500</text><rect x="1857" y="221" width="3" height="1" fill="#777"/><text x="1862" y="225.2" class="ax">25,000</text><rect x="1857" y="305" width="3" height="1" fill="#777"/><text x="1862" y="309.2" class="ax">24,500</text><rect x="1857" y="388" width="3" height="1" fill="#777"/><text x="1862" y="392.2" class="ax">24,000</text><rect x="1857" y="472" width="3" height="1" fill="#777"/><text x="1862" y="476.2" class="ax">23,500</text><rect x="1857" y="556" width="3" height="1" fill="#777"/><text x="1862" y="560.2" class="ax">23,000</text><rect x="1857" y="640" width="3" height="1" fill="#777"/><text x="1862" y="644.2" class="ax">22,500</text><rect x="1857" y="770" width="3" height="1" fill="#777"/><text x="1862" y="774.2" class="ax">70</text><rect x="1857" y="843" width="3" height="1" fill="#777"/><text x="1862" y="847.2" class="ax">30</text>
<path d="M1848,63.8 L1856.6,55.9 L1896.1,55.9 Q1898.1,55.9 1898.1,57.9 L1898.1,69.6 Q1898.1,71.6 1896.1,71.6 L1856.6,71.6 Z" fill="#f7891f"/><text x="1862" y="67.8" class="ax" fill="#000" style="fill:#000">25,939</text>
<path d="M1848,294.9 L1856.6,287 L1896.1,287 Q1898.1,287 1898.1,289 L1898.1,300.8 Q1898.1,302.8 1896.1,302.8 L1856.6,302.8 Z" fill="#4ecbcb"/><text x="1862" y="298.9" class="ax" fill="#000" style="fill:#000">24,561</text>
<path d="M1848,526 L1856.6,518.1 L1896.1,518.1 Q1898.1,518.1 1898.1,520.1 L1898.1,531.9 Q1898.1,533.9 1896.1,533.9 L1856.6,533.9 Z" fill="#f7891f"/><text x="1862" y="530" class="ax" fill="#000" style="fill:#000">23,162</text>
<path d="M1848,518.2 L1856.6,510.4 L1910.8,510.4 Q1912.8,510.4 1912.8,512.4 L1912.8,524.1 Q1912.8,526.1 1910.8,526.1 L1856.6,526.1 Z" fill="#6156ad"/><text x="1862" y="522.2" class="ax" fill="#fff" style="fill:#fff">23,231.00</text>
<path d="M1848,847.8 L1856.6,839.9 L1884.1,839.9 Q1886.1,839.9 1886.1,841.9 L1886.1,853.6 Q1886.1,855.6 1884.1,855.6 L1856.6,855.6 Z" fill="#000"/><text x="1862" y="851.8" class="ax" fill="#fff" style="fill:#fff">27.4</text>
<rect x="19" y="910" width="1" height="5" fill="#666"/><text x="19.5" y="926" class="xa" text-anchor="middle">24</text><rect x="131" y="910" width="1" height="5" fill="#666"/><text x="131.5" y="926" class="xa" text-anchor="middle">7</text><rect x="187" y="910" width="1" height="5" fill="#666"/><text x="187.5" y="926" class="xa" text-anchor="middle">14</text><rect x="243" y="910" width="1" height="5" fill="#666"/><text x="243.5" y="926" class="xa" text-anchor="middle">21</text><rect x="355" y="910" width="1" height="5" fill="#666"/><text x="355.5" y="926" class="xa" text-anchor="middle">5</text><rect x="411" y="910" width="1" height="5" fill="#666"/><text x="411.5" y="926" class="xa" text-anchor="middle">12</text><rect x="467" y="910" width="1" height="5" fill="#666"/><text x="467.5" y="926" class="xa" text-anchor="middle">19</text><rect x="523" y="910" width="1" height="5" fill="#666"/><text x="523.5" y="926" class="xa" text-anchor="middle">26</text><rect x="635" y="910" width="1" height="5" fill="#666"/><text x="635.5" y="926" class="xa" text-anchor="middle">9</text><rect x="691" y="910" width="1" height="5" fill="#666"/><text x="691.5" y="926" class="xa" text-anchor="middle">16</text><rect x="747" y="910" width="1" height="5" fill="#666"/><text x="747.5" y="926" class="xa" text-anchor="middle">23</text><rect x="859" y="910" width="1" height="5" fill="#666"/><text x="859.5" y="926" class="xa" text-anchor="middle">7</text><rect x="915" y="910" width="1" height="5" fill="#666"/><text x="915.5" y="926" class="xa" text-anchor="middle">14</text><rect x="971" y="910" width="1" height="5" fill="#666"/><text x="971.5" y="926" class="xa" text-anchor="middle">21</text><rect x="1027" y="910" width="1" height="5" fill="#666"/><text x="1027.5" y="926" class="xa" text-anchor="middle">28</text><rect x="1139" y="910" width="1" height="5" fill="#666"/><text x="1139.5" y="926" class="xa" text-anchor="middle">11</text><rect x="1195" y="910" width="1" height="5" fill="#666"/><text x="1195.5" y="926" class="xa" text-anchor="middle">18</text><rect x="1251" y="910" width="1" height="5" fill="#666"/><text x="1251.5" y="926" class="xa" text-anchor="middle">25</text><rect x="1363" y="910" width="1" height="5" fill="#666"/><text x="1363.5" y="926" class="xa" text-anchor="middle">8</text><rect x="1419" y="910" width="1" height="5" fill="#666"/><text x="1419.5" y="926" class="xa" text-anchor="middle">15</text><rect x="1475" y="910" width="1" height="5" fill="#666"/><text x="1475.5" y="926" class="xa" text-anchor="middle">22</text><rect x="1587" y="910" width="1" height="5" fill="#666"/><text x="1587.5" y="926" class="xa" text-anchor="middle">8</text><rect x="1652" y="910" width="1" height="5" fill="#666"/><text x="1652.5" y="926" class="xa" text-anchor="middle">15</text><rect x="1718" y="910" width="1" height="5" fill="#666"/><text x="1718.5" y="926" class="xa" text-anchor="middle">22</text><rect x="1848" y="910" width="1" height="5" fill="#666"/><text x="1848.5" y="926" class="xa" text-anchor="middle">5</text><rect x="80" y="910" width="1" height="6" fill="#666"/><rect x="80" y="918" width="1" height="1" fill="#777"/><rect x="80" y="921" width="1" height="1" fill="#777"/><rect x="80" y="924" width="1" height="1" fill="#777"/><rect x="80" y="927" width="1" height="1" fill="#777"/><text x="80.5" y="939.7" class="xa" text-anchor="middle">Sept '25</text><rect x="323" y="910" width="1" height="6" fill="#666"/><rect x="323" y="918" width="1" height="1" fill="#777"/><rect x="323" y="921" width="1" height="1" fill="#777"/><rect x="323" y="924" width="1" height="1" fill="#777"/><rect x="323" y="927" width="1" height="1" fill="#777"/><text x="323.5" y="939.7" class="xa" text-anchor="middle">Oct '25</text><rect x="575" y="910" width="1" height="6" fill="#666"/><rect x="575" y="918" width="1" height="1" fill="#777"/><rect x="575" y="921" width="1" height="1" fill="#777"/><rect x="575" y="924" width="1" height="1" fill="#777"/><rect x="575" y="927" width="1" height="1" fill="#777"/><text x="575.5" y="939.7" class="xa" text-anchor="middle">Nov '25</text><rect x="808" y="910" width="1" height="6" fill="#666"/><rect x="808" y="918" width="1" height="1" fill="#777"/><rect x="808" y="921" width="1" height="1" fill="#777"/><rect x="808" y="924" width="1" height="1" fill="#777"/><rect x="808" y="927" width="1" height="1" fill="#777"/><text x="808.5" y="939.7" class="xa" text-anchor="middle">Dec '25</text><rect x="1060" y="910" width="1" height="6" fill="#666"/><rect x="1060" y="918" width="1" height="1" fill="#777"/><rect x="1060" y="921" width="1" height="1" fill="#777"/><rect x="1060" y="924" width="1" height="1" fill="#777"/><rect x="1060" y="927" width="1" height="1" fill="#777"/><text x="1060.5" y="939.7" class="xa" text-anchor="middle">Jan '26</text><rect x="1302" y="910" width="1" height="6" fill="#666"/><rect x="1302" y="918" width="1" height="1" fill="#777"/><rect x="1302" y="921" width="1" height="1" fill="#777"/><rect x="1302" y="924" width="1" height="1" fill="#777"/><rect x="1302" y="927" width="1" height="1" fill="#777"/><text x="1302.5" y="939.7" class="xa" text-anchor="middle">Feb '26</text><rect x="1527" y="910" width="1" height="6" fill="#666"/><rect x="1527" y="918" width="1" height="1" fill="#777"/><rect x="1527" y="921" width="1" height="1" fill="#777"/><rect x="1527" y="924" width="1" height="1" fill="#777"/><rect x="1527" y="927" width="1" height="1" fill="#777"/><text x="1527.5" y="939.7" class="xa" text-anchor="middle">Mar '26</text><rect x="1806" y="910" width="1" height="6" fill="#666"/><rect x="1806" y="918" width="1" height="1" fill="#777"/><rect x="1806" y="921" width="1" height="1" fill="#777"/><rect x="1806" y="924" width="1" height="1" fill="#777"/><rect x="1806" y="927" width="1" height="1" fill="#777"/><text x="1806.5" y="939.7" class="xa" text-anchor="middle">Apr '26</text>
<rect x="77.7" y="947.8" width="16.6" height="10.6" rx="2" fill="none" stroke="#939393" stroke-width="1.1"/><rect x="78.5" y="947.2" width="15" height="1.6" fill="#939393"/><rect x="82.3" y="945.8" width="1.2" height="2.8" fill="#b5b5b5"/><rect x="88.3" y="945.8" width="1.2" height="2.8" fill="#b5b5b5"/><text x="86" y="956.7" class="cal" text-anchor="middle">2</text><rect x="133.7" y="947.8" width="16.6" height="10.6" rx="2" fill="none" stroke="#939393" stroke-width="1.1"/><rect x="134.5" y="947.2" width="15" height="1.6" fill="#939393"/><rect x="138.3" y="945.8" width="1.2" height="2.8" fill="#b5b5b5"/><rect x="144.3" y="945.8" width="1.2" height="2.8" fill="#b5b5b5"/><text x="142" y="956.7" class="cal" text-anchor="middle">4</text><rect x="189.7" y="947.8" width="16.6" height="10.6" rx="2" fill="none" stroke="#939393" stroke-width="1.1"/><rect x="190.5" y="947.2" width="15" height="1.6" fill="#939393"/><rect x="194.3" y="945.8" width="1.2" height="2.8" fill="#b5b5b5"/><rect x="200.3" y="945.8" width="1.2" height="2.8" fill="#b5b5b5"/><text x="198" y="956.7" class="cal" text-anchor="middle">8</text><rect x="245.7" y="947.8" width="16.6" height="10.6" rx="2" fill="none" stroke="#939393" stroke-width="1.1"/><rect x="246.5" y="947.2" width="15" height="1.6" fill="#939393"/><rect x="250.3" y="945.8" width="1.2" height="2.8" fill="#b5b5b5"/><rect x="256.3" y="945.8" width="1.2" height="2.8" fill="#b5b5b5"/><text x="254" y="956.7" class="cal" text-anchor="middle">2</text><rect x="301.7" y="947.8" width="16.6" height="10.6" rx="2" fill="none" stroke="#939393" stroke-width="1.1"/><rect x="302.5" y="947.2" width="15" height="1.6" fill="#939393"/><rect x="306.3" y="945.8" width="1.2" height="2.8" fill="#b5b5b5"/><rect x="312.3" y="945.8" width="1.2" height="2.8" fill="#b5b5b5"/><text x="310" y="956.7" class="cal" text-anchor="middle">3</text><rect x="357.7" y="947.8" width="16.6" height="10.6" rx="2" fill="none" stroke="#939393" stroke-width="1.1"/><rect x="358.5" y="947.2" width="15" height="1.6" fill="#939393"/><rect x="362.3" y="945.8" width="1.2" height="2.8" fill="#b5b5b5"/><rect x="368.3" y="945.8" width="1.2" height="2.8" fill="#b5b5b5"/><text x="366" y="956.7" class="cal" text-anchor="middle">7</text><rect x="413.7" y="947.8" width="16.6" height="10.6" rx="2" fill="none" stroke="#939393" stroke-width="1.1"/><rect x="414.5" y="947.2" width="15" height="1.6" fill="#939393"/><rect x="418.3" y="945.8" width="1.2" height="2.8" fill="#b5b5b5"/><rect x="424.3" y="945.8" width="1.2" height="2.8" fill="#b5b5b5"/><text x="422" y="956.7" class="cal" text-anchor="middle">20</text><rect x="469.7" y="947.8" width="16.6" height="10.6" rx="2" fill="none" stroke="#939393" stroke-width="1.1"/><rect x="470.5" y="947.2" width="15" height="1.6" fill="#939393"/><rect x="474.3" y="945.8" width="1.2" height="2.8" fill="#b5b5b5"/><rect x="480.3" y="945.8" width="1.2" height="2.8" fill="#b5b5b5"/><text x="478" y="956.7" class="cal" text-anchor="middle">28</text><rect x="525.7" y="947.8" width="16.6" height="10.6" rx="2" fill="none" stroke="#939393" stroke-width="1.1"/><rect x="526.5" y="947.2" width="15" height="1.6" fill="#939393"/><rect x="530.3" y="945.8" width="1.2" height="2.8" fill="#b5b5b5"/><rect x="536.3" y="945.8" width="1.2" height="2.8" fill="#b5b5b5"/><text x="534" y="956.7" class="cal" text-anchor="middle">15</text><rect x="581.7" y="947.8" width="16.6" height="10.6" rx="2" fill="none" stroke="#939393" stroke-width="1.1"/><rect x="582.5" y="947.2" width="15" height="1.6" fill="#939393"/><rect x="586.3" y="945.8" width="1.2" height="2.8" fill="#b5b5b5"/><rect x="592.3" y="945.8" width="1.2" height="2.8" fill="#b5b5b5"/><text x="590" y="956.7" class="cal" text-anchor="middle">33</text><rect x="636.7" y="947.8" width="16.6" height="10.6" rx="2" fill="none" stroke="#939393" stroke-width="1.1"/><rect x="637.5" y="947.2" width="15" height="1.6" fill="#939393"/><rect x="641.3" y="945.8" width="1.2" height="2.8" fill="#b5b5b5"/><rect x="647.3" y="945.8" width="1.2" height="2.8" fill="#b5b5b5"/><text x="645" y="956.7" class="cal" text-anchor="middle">39</text><rect x="692.7" y="947.8" width="16.6" height="10.6" rx="2" fill="none" stroke="#939393" stroke-width="1.1"/><rect x="693.5" y="947.2" width="15" height="1.6" fill="#939393"/><rect x="697.3" y="945.8" width="1.2" height="2.8" fill="#b5b5b5"/><rect x="703.3" y="945.8" width="1.2" height="2.8" fill="#b5b5b5"/><text x="701" y="956.7" class="cal" text-anchor="middle">25</text><rect x="748.7" y="947.8" width="16.6" height="10.6" rx="2" fill="none" stroke="#939393" stroke-width="1.1"/><rect x="749.5" y="947.2" width="15" height="1.6" fill="#939393"/><rect x="753.3" y="945.8" width="1.2" height="2.8" fill="#b5b5b5"/><rect x="759.3" y="945.8" width="1.2" height="2.8" fill="#b5b5b5"/><text x="757" y="956.7" class="cal" text-anchor="middle">5</text><rect x="804.7" y="947.8" width="16.6" height="10.6" rx="2" fill="none" stroke="#939393" stroke-width="1.1"/><rect x="805.5" y="947.2" width="15" height="1.6" fill="#939393"/><rect x="809.3" y="945.8" width="1.2" height="2.8" fill="#b5b5b5"/><rect x="815.3" y="945.8" width="1.2" height="2.8" fill="#b5b5b5"/><text x="813" y="956.7" class="cal" text-anchor="middle">5</text><rect x="860.7" y="947.8" width="16.6" height="10.6" rx="2" fill="none" stroke="#939393" stroke-width="1.1"/><rect x="861.5" y="947.2" width="15" height="1.6" fill="#939393"/><rect x="865.3" y="945.8" width="1.2" height="2.8" fill="#b5b5b5"/><rect x="871.3" y="945.8" width="1.2" height="2.8" fill="#b5b5b5"/><text x="869" y="956.7" class="cal" text-anchor="middle">3</text><rect x="916.7" y="947.8" width="16.6" height="10.6" rx="2" fill="none" stroke="#939393" stroke-width="1.1"/><rect x="917.5" y="947.2" width="15" height="1.6" fill="#939393"/><rect x="921.3" y="945.8" width="1.2" height="2.8" fill="#b5b5b5"/><rect x="927.3" y="945.8" width="1.2" height="2.8" fill="#b5b5b5"/><text x="925" y="956.7" class="cal" text-anchor="middle">9</text><rect x="972.7" y="947.8" width="16.6" height="10.6" rx="2" fill="none" stroke="#939393" stroke-width="1.1"/><rect x="973.5" y="947.2" width="15" height="1.6" fill="#939393"/><rect x="977.3" y="945.8" width="1.2" height="2.8" fill="#b5b5b5"/><rect x="983.3" y="945.8" width="1.2" height="2.8" fill="#b5b5b5"/><text x="981" y="956.7" class="cal" text-anchor="middle">3</text><g opacity="0.5"><rect x="1027" y="944" width="20" height="15" fill="#fff"/><rect x="1027" y="944" width="20" height="1.15" fill="#e0242c"/><rect x="1027" y="946.3" width="20" height="1.15" fill="#e0242c"/><rect x="1027" y="948.6" width="20" height="1.15" fill="#e0242c"/><rect x="1027" y="950.9" width="20" height="1.15" fill="#e0242c"/><rect x="1027" y="953.2" width="20" height="1.15" fill="#e0242c"/><rect x="1027" y="955.5" width="20" height="1.15" fill="#e0242c"/><rect x="1027" y="957.8" width="20" height="1.15" fill="#e0242c"/><rect x="1027" y="944" width="9" height="7" fill="#3c3b8e"/></g><rect x="1084.7" y="947.8" width="16.6" height="10.6" rx="2" fill="none" stroke="#939393" stroke-width="1.1"/><rect x="1085.5" y="947.2" width="15" height="1.6" fill="#939393"/><rect x="1089.3" y="945.8" width="1.2" height="2.8" fill="#b5b5b5"/><rect x="1095.3" y="945.8" width="1.2" height="2.8" fill="#b5b5b5"/><text x="1093" y="956.7" class="cal" text-anchor="middle">2</text><rect x="1140.7" y="947.8" width="16.6" height="10.6" rx="2" fill="none" stroke="#939393" stroke-width="1.1"/><rect x="1141.5" y="947.2" width="15" height="1.6" fill="#939393"/><rect x="1145.3" y="945.8" width="1.2" height="2.8" fill="#b5b5b5"/><rect x="1151.3" y="945.8" width="1.2" height="2.8" fill="#b5b5b5"/><text x="1149" y="956.7" class="cal" text-anchor="middle">6</text><rect x="1196.7" y="947.8" width="16.6" height="10.6" rx="2" fill="none" stroke="#939393" stroke-width="1.1"/><rect x="1197.5" y="947.2" width="15" height="1.6" fill="#939393"/><rect x="1201.3" y="945.8" width="1.2" height="2.8" fill="#b5b5b5"/><rect x="1207.3" y="945.8" width="1.2" height="2.8" fill="#b5b5b5"/><text x="1205" y="956.7" class="cal" text-anchor="middle">6</text><rect x="1252.7" y="947.8" width="16.6" height="10.6" rx="2" fill="none" stroke="#939393" stroke-width="1.1"/><rect x="1253.5" y="947.2" width="15" height="1.6" fill="#939393"/><rect x="1257.3" y="945.8" width="1.2" height="2.8" fill="#b5b5b5"/><rect x="1263.3" y="945.8" width="1.2" height="2.8" fill="#b5b5b5"/><text x="1261" y="956.7" class="cal" text-anchor="middle">5</text><rect x="1308.7" y="947.8" width="16.6" height="10.6" rx="2" fill="none" stroke="#939393" stroke-width="1.1"/><rect x="1309.5" y="947.2" width="15" height="1.6" fill="#939393"/><rect x="1313.3" y="945.8" width="1.2" height="2.8" fill="#b5b5b5"/><rect x="1319.3" y="945.8" width="1.2" height="2.8" fill="#b5b5b5"/><text x="1317" y="956.7" class="cal" text-anchor="middle">9</text><rect x="1364.7" y="947.8" width="16.6" height="10.6" rx="2" fill="none" stroke="#939393" stroke-width="1.1"/><rect x="1365.5" y="947.2" width="15" height="1.6" fill="#939393"/><rect x="1369.3" y="945.8" width="1.2" height="2.8" fill="#b5b5b5"/><rect x="1375.3" y="945.8" width="1.2" height="2.8" fill="#b5b5b5"/><text x="1373" y="956.7" class="cal" text-anchor="middle">6</text><rect x="1420.7" y="947.8" width="16.6" height="10.6" rx="2" fill="none" stroke="#939393" stroke-width="1.1"/><rect x="1421.5" y="947.2" width="15" height="1.6" fill="#939393"/><rect x="1425.3" y="945.8" width="1.2" height="2.8" fill="#b5b5b5"/><rect x="1431.3" y="945.8" width="1.2" height="2.8" fill="#b5b5b5"/><text x="1429" y="956.7" class="cal" text-anchor="middle">6</text><rect x="1476.7" y="947.8" width="16.6" height="10.6" rx="2" fill="none" stroke="#939393" stroke-width="1.1"/><rect x="1477.5" y="947.2" width="15" height="1.6" fill="#939393"/><rect x="1481.3" y="945.8" width="1.2" height="2.8" fill="#b5b5b5"/><rect x="1487.3" y="945.8" width="1.2" height="2.8" fill="#b5b5b5"/><text x="1485" y="956.7" class="cal" text-anchor="middle">3</text><rect x="1532.7" y="947.8" width="16.6" height="10.6" rx="2" fill="none" stroke="#939393" stroke-width="1.1"/><rect x="1533.5" y="947.2" width="15" height="1.6" fill="#939393"/><rect x="1537.3" y="945.8" width="1.2" height="2.8" fill="#b5b5b5"/><rect x="1543.3" y="945.8" width="1.2" height="2.8" fill="#b5b5b5"/><text x="1541" y="956.7" class="cal" text-anchor="middle">2</text><rect x="1588.7" y="947.8" width="16.6" height="10.6" rx="2" fill="none" stroke="#939393" stroke-width="1.1"/><rect x="1589.5" y="947.2" width="15" height="1.6" fill="#939393"/><rect x="1593.3" y="945.8" width="1.2" height="2.8" fill="#b5b5b5"/><rect x="1599.3" y="945.8" width="1.2" height="2.8" fill="#b5b5b5"/><text x="1597" y="956.7" class="cal" text-anchor="middle">4</text><g opacity="0.5"><rect x="20" y="944" width="20" height="15" fill="#fff"/><rect x="20" y="944" width="20" height="1.15" fill="#e0242c"/><rect x="20" y="946.3" width="20" height="1.15" fill="#e0242c"/><rect x="20" y="948.6" width="20" height="1.15" fill="#e0242c"/><rect x="20" y="950.9" width="20" height="1.15" fill="#e0242c"/><rect x="20" y="953.2" width="20" height="1.15" fill="#e0242c"/><rect x="20" y="955.5" width="20" height="1.15" fill="#e0242c"/><rect x="20" y="957.8" width="20" height="1.15" fill="#e0242c"/><rect x="20" y="944" width="9" height="7" fill="#3c3b8e"/></g>
<text x="8.8" y="20" class="tbt">Daily</text><polygon points="45.2,13.2 55.2,13.2 50.2,19" fill="#555"/><text x="75.3" y="20" class="tbt">Technical</text><polygon points="139.4,13.2 149.4,13.2 144.4,19" fill="#555"/><text x="169.6" y="20" class="tbt">Display</text><polygon points="220.8,13.2 230.8,13.2 225.8,19" fill="#555"/><text x="250.6" y="20" class="tbt">More</text><polygon points="287.6,13.2 297.6,13.2 292.6,19" fill="#555"/><text x="12.4" y="64" class="title">GERMANY 40, DAILY</text><rect x="0" y="633" width="256" height="24" fill="#fff" fill-opacity="0.85"/><rect x="0" y="715" width="80" height="24" fill="#fff" fill-opacity="0.85"/><text x="6.4" y="649.5" class="ind"><tspan font-weight="bold">VWAP</tspan> 20 1 2 3</text><text x="123.7" y="649.5" class="ind"><tspan font-weight="bold">AUTO TREND</tspan> 3 9 4</text><text x="6.4" y="731" class="ind"><tspan font-weight="bold">RSI</tspan> 14</text>
</svg>
<svg width="140" height="35" style="left:310px;top:0" viewBox="310 0 140 35">
 <path d="M319.5,20.6 V10.3 Q319.5,9.3 320.5,9.3 H324.3 L326.4,11.4 H330.2 Q330.7,11.4 330.7,12.5" fill="none" stroke="#333" stroke-width="1"/>
 <path d="M324.6,14.3 H333.8 Q334.2,14.3 334,14.8 L331,20.8 Q330.8,21.2 330.3,21.2 H320.3 Z" fill="#333"/>
 <path d="M353.3,9.4 Q353.3,7.9 354.8,7.9 H365.4 L367.9,10.6 V21.3 Q367.9,22.8 366.4,22.8 H354.8 Q353.3,22.8 353.3,21.3 Z" fill="#333"/>
 <rect x="357.1" y="8.9" width="6.9" height="4.2" fill="#fff"/>
 <rect x="361.6" y="9.8" width="1.2" height="1.8" fill="#333"/>
 <rect x="355.1" y="14.8" width="10.9" height="6.8" rx="1" fill="#fff"/>
 <rect x="386" y="12.3" width="15" height="3.6" fill="#000"/>
 <rect x="422" y="12.3" width="15" height="3.6" fill="#000"/>
 <rect x="427.3" y="6.8" width="3.7" height="14.9" fill="#000"/>
 <rect x="400" y="26" width="1" height="9" fill="#ddd"/>
 <rect x="436" y="26" width="1" height="9" fill="#ddd"/>
</svg>
<svg width="4" height="30" style="left:1909px;top:3px"><rect x="0.5" y="0" width="1" height="27" fill="#ddd"/></svg>
<svg width="260" height="100" style="left:0;top:636px" viewBox="0 636 260 100">
 <g fill="#9a9a9a">
  <g transform="translate(88.2,646)"><circle r="4.2"/><g><rect x="-1.3" y="-6" width="2.6" height="12"/><rect x="-6" y="-1.3" width="12" height="2.6"/><rect x="-1.3" y="-6" width="2.6" height="12" transform="rotate(45)"/><rect x="-6" y="-1.3" width="12" height="2.6" transform="rotate(45)"/></g><circle r="1.8" fill="#fff"/></g>
  <g transform="translate(228,646)"><circle r="4.2"/><g><rect x="-1.3" y="-6" width="2.6" height="12"/><rect x="-6" y="-1.3" width="12" height="2.6"/><rect x="-1.3" y="-6" width="2.6" height="12" transform="rotate(45)"/><rect x="-6" y="-1.3" width="12" height="2.6" transform="rotate(45)"/></g><circle r="1.8" fill="#fff"/></g>
  <g transform="translate(48,728)"><circle r="4.2"/><g><rect x="-1.3" y="-6" width="2.6" height="12"/><rect x="-6" y="-1.3" width="12" height="2.6"/><rect x="-1.3" y="-6" width="2.6" height="12" transform="rotate(45)"/><rect x="-6" y="-1.3" width="12" height="2.6" transform="rotate(45)"/></g><circle r="1.8" fill="#fff"/></g>
 </g>
 <g stroke="#9a9a9a" stroke-width="2.3" stroke-linecap="round">
  <path d="M101.3,642.6 l7.2,7.2 M108.5,642.6 l-7.2,7.2"/>
  <path d="M241.5,642.6 l7.2,7.2 M248.7,642.6 l-7.2,7.2"/>
  <path d="M61.3,724.4 l7.2,7.2 M68.5,724.4 l-7.2,7.2"/>
 </g>
 <path d="M87.4,734 v-11.4 M82.2,727.7 l5.2,-5.2 l5.2,5.2" fill="none" stroke="#444" stroke-width="1"/>
</svg>
</body></html>
